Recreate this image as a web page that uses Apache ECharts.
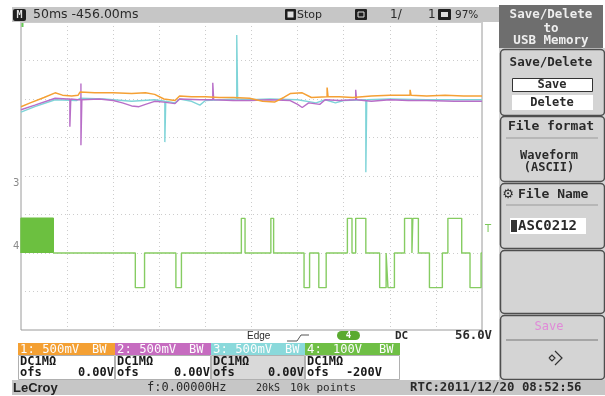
<!DOCTYPE html>
<html><head><meta charset="utf-8">
<script src="https://cdn.jsdelivr.net/npm/echarts/dist/echarts.min.js"></script>
<style>html,body{margin:0;padding:0;background:#fff}#c{width:605px;height:396px}</style>
</head><body><div id="c"></div><script>
// ---- data (time in ms across the 10 divisions of 50 ms, values in V) ----
const ch1 = [[0,0.90],[10,0.95],[25,1.02],[37,1.08],[45,1.05],[55,1.04],[62,1.05],[64,1.09],[80,1.08],[100,1.08],[120,1.07],[135,1.08],[145,1.06],[155,1.00],[167,0.98],[172,1.04],[185,1.03],[200,1.03],[215,1.02],[230,1.02],[248,1.01],[262,0.97],[275,0.96],[285,1.02],[292,1.07],[305,1.08],[315,1.02],[332,1.03],[332,1.15],[333,1.03],[345,1.03],[360,1.02],[380,1.04],[400,1.05],[422,1.05],[422,1.12],[423,1.05],[440,1.04],[460,1.05],[480,1.04],[500,1.04]];
const ch2 = [[0,0.86],[15,0.92],[37,1.01],[50,1.00],[53,1.00],[53,0.64],[54,1.00],[62,0.99],[65,0.99],[65,1.20],[65,0.40],[66,0.99],[85,1.00],[100,0.98],[110,0.95],[120,0.91],[128,0.90],[135,0.93],[145,0.97],[155,0.96],[167,0.94],[172,1.00],[194,0.99],[208,0.99],[208,1.21],[209,0.99],[230,0.98],[248,0.98],[270,0.99],[292,0.98],[300,0.93],[305,0.89],[312,0.95],[324,0.93],[330,0.99],[345,0.98],[363,0.99],[363,1.12],[364,0.99],[380,0.97],[400,0.99],[420,0.98],[440,0.98],[470,0.97],[500,0.97]];
const ch3 = [[0,0.83],[15,0.90],[37,0.99],[60,0.98],[64,1.01],[90,1.00],[120,0.97],[145,0.99],[156,0.97],[156,0.44],[157,0.97],[167,0.95],[172,1.00],[185,0.97],[194,0.92],[200,0.98],[234,1.00],[234,1.83],[235,1.00],[248,0.99],[270,1.00],[300,0.99],[320,0.95],[330,0.99],[341,0.95],[350,0.98],[374,0.99],[374,0.05],[375,0.99],[400,1.00],[440,0.99],[500,0.99]];
// channel 4 (100 V/div, offset -200 V): level that starts at each time
const ch4Burst = [[0,0],[0,90],[35,90],[35,0]];
const ch4 = [[35,0],[124,-90],[134,0],[168,-90],[174,0],[239,90],[243,0],[271,90],[274,0],[307,-90],[313,0],[323,-90],[331,0],[354,90],[359,0],[363,90],[374,0],[389,-90],[396,0],[398,-90],[405,0],[416,90],[424,0],[425,90],[431,0],[443,-90],[457,0],[463,90],[478,0],[487,-90],[499,0],[500,0]];
const chLabels = ['1: 500mV','2: 500mV','3: 500mV','4:'];
const chOfs = ['0.00V','0.00V','0.00V','-200V'];

// ---- drawing ----
const G = [];
const MONO='"DejaVu Sans Mono", monospace', SANS='"Liberation Sans", Arial, sans-serif', DSANS='"DejaVu Sans", sans-serif';
function T(x,y,s,o){o=o||{};G.push({type:'text',x:x,y:y,z:o.z||20,style:{text:s,fill:o.c||'#2a2a2a',font:(o.w||'normal')+' '+(o.s||12)+'px '+(o.f||MONO),align:o.a||'left',verticalAlign:'middle'}});}
function R(x,y,w,h,o){o=o||{};G.push({type:'rect',z:o.z||10,shape:{x:x,y:y,width:w,height:h,r:o.r||0},style:{fill:o.fill||'none',stroke:o.stroke||null,lineWidth:o.lw||1}});}
function L(x1,y1,x2,y2,o){o=o||{};G.push({type:'line',z:o.z||15,shape:{x1:x1,y1:y1,x2:x2,y2:y2},style:{stroke:o.c||'#888',lineWidth:o.lw||1}});}
function P(pts,o){o=o||{};G.push({type:'polyline',z:o.z||15,shape:{points:pts},style:{stroke:o.c||'#333',lineWidth:o.lw||1,fill:'none'}});}

// top status bar
R(12,7,488,15,{fill:'#c6c6c6'});
R(13,9,13,12,{fill:'#1f1f1f',r:2}); T(19.5,15,'M',{c:'#e0e0e0',s:10,w:'bold',a:'center'});
T(33,15,'50ms -456.00ms',{s:12.5,f:DSANS});
R(285,9,11,11,{fill:'#1f1f1f',r:1}); R(287.5,11.5,6,6,{fill:'#e0e0e0'}); T(297,15,'Stop',{s:11,f:DSANS});
R(355,9,12,11,{fill:'#1f1f1f',r:1}); R(358,12,6,5,{stroke:'#ddd'});
T(390,15,'1/',{s:12,f:DSANS}); T(428,15,'1',{s:12,f:DSANS});
R(438,9,13,11,{fill:'#1f1f1f',r:1}); R(441,12,7,5,{fill:'#ddd'});
T(455,15,'97%',{s:10.5,f:DSANS});

// right menu
R(499,5,104,43,{fill:'#6e6e6e'});
T(551,15,'Save/Delete',{c:'#eeeeee',s:12.5,a:'center',w:'bold'});
T(551,28.5,'to',{c:'#eeeeee',s:12.5,a:'center',w:'bold'});
T(551,41,'USB Memory',{c:'#eeeeee',s:12.5,a:'center',w:'bold'});
R(499,48,106,332,{fill:'#d4d4d4'});
[[49,66],[116,65],[183,65],[250,63],[315,64]].forEach(p=>R(500.5,p[0]+0.5,104,p[1],{fill:'#d4d4d4',stroke:'#4e4e4e',lw:1.5,r:4}));
T(551,63,'Save/Delete',{s:12.5,a:'center',w:'bold'});
R(512.5,78.5,80,13,{fill:'#fff',stroke:'#333'}); T(552,85,'Save',{s:12,a:'center',w:'bold'});
R(512,95,81,15,{fill:'#fff'}); T(552,102.5,'Delete',{s:12,a:'center',w:'bold'});
T(551,127,'File format',{s:13,a:'center',w:'bold'});
L(506,138,598,138,{c:'#9a9a9a'});
T(549,156,'Waveform',{s:12,a:'center',w:'bold'});
T(549,168,'(ASCII)',{s:12,a:'center',w:'bold'});
T(508,195,'\u2699',{s:13,f:DSANS,a:'center'}); T(518,195,'File Name',{s:13,w:'bold'});
L(506,205,598,205,{c:'#9a9a9a'});
R(510,218,76,16,{fill:'#fff'}); R(511,220,6,12,{fill:'#333'}); T(518,226,'ASC0212',{s:14,w:'bold'});
T(549,327,'Save',{s:12,a:'center',c:'#e08ad8'});
L(506,340,598,340,{c:'#777'});
P([[549,358],[552,355],[555,358],[552,361],[549,358]],{c:'#333',lw:1.2});
P([[555,351],[562,358],[555,365]],{c:'#333',lw:1.2});

// trigger row
T(247,336,'Edge',{f:SANS,s:10});
P([[287,341],[297,341],[301,335],[309,335]],{c:'#555'});
R(337,331,23,9,{fill:'#5aaa30',r:4.5}); T(348.5,335.5,'4',{c:'#fff',s:9,a:'center',w:'bold'});
T(395,336,'DC',{s:11,w:'bold'}); T(455,336,'56.0V',{s:12.3,w:'bold'});

// channel boxes
const boxX=[18,115,211,305], boxW=[97,96,94,95], boxC=['#f4a033','#c66cc0','#8ad9db','#6fbf45'], bodyC=['#fff','#fff','#d9d9d9','#fff'];
for(let i=0;i<4;i++){
  R(boxX[i]+0.5,355.5,boxW[i]-1,24,{fill:bodyC[i],stroke:'#b0b0b0'});
  R(boxX[i],343,boxW[i],12,{fill:boxC[i]});
  T(boxX[i]+2,349.5,chLabels[i],{c:'#fdfdfd',s:12.3});
  T(boxX[i]+74,349.5,'BW',{c:'#fdfdfd',s:12});
  T(boxX[i]+2,362,'DC1M\u03A9',{s:12,c:'#1a1a1a',w:'bold'});
  T(boxX[i]+2,373,'ofs',{s:12,c:'#1a1a1a',w:'bold'});
  T(i<3?boxX[i]+boxW[i]-1:382,373,chOfs[i],{s:12,a:'right',c:'#1a1a1a',w:'bold'});
}
T(333,349.5,'100V',{c:'#fdfdfd',s:12});

// bottom bar
R(12,380,593,15,{fill:'#c6c6c6'});
T(13,388,'LeCroy',{f:SANS,s:13,w:'bold',c:'#222'});
T(147,388,'f:0.00000Hz',{s:12});
T(256,388,'20kS',{s:10});
T(290,388,'10k points',{s:11});
T(410,388,'RTC:2011/12/20 08:52:56',{s:12.4,w:'bold'});

// side markers
T(13,183,'3',{c:'#8a8a8a',s:10,f:DSANS});
T(13,246,'4',{c:'#8a8a8a',s:10,f:DSANS});
R(21.5,23,2,4,{fill:'#66cc55'});
T(485,229,'T',{c:'#7cc85a',s:10,f:DSANS});

const dotted = {show:true,lineStyle:{color:'#cccccc',type:[1,3],width:1}};
const chart = echarts.init(document.getElementById('c'));
chart.setOption({
  animation:false,
  graphic:G,
  grid:{left:21,top:22,width:461,height:308,show:true,borderColor:'#9a9a9a',borderWidth:1,backgroundColor:'#fff'},
  xAxis:{type:'value',min:0,max:500,interval:50,axisLine:{show:false},axisTick:{show:false},axisLabel:{show:false},splitLine:dotted},
  yAxis:[
    {type:'value',min:-2,max:2,interval:0.5,axisLine:{show:false},axisTick:{show:false},axisLabel:{show:false},splitLine:dotted},
    {type:'value',min:-200,max:600,interval:100,show:false,splitLine:{show:false}}
  ],
  series:[
    {type:'line',name:'3',data:ch3,symbol:'none',lineStyle:{color:'#7fd4d8',width:1.4},silent:true,z:2},
    {type:'line',name:'2',data:ch2,symbol:'none',lineStyle:{color:'#b86ec8',width:1.4},silent:true,z:3},
    {type:'line',name:'1',data:ch1,symbol:'none',lineStyle:{color:'#f5a034',width:1.5},silent:true,z:4},
    {type:'line',name:'4b',data:ch4Burst,yAxisIndex:1,symbol:'none',lineStyle:{color:'#6cc040',width:1.5},areaStyle:{color:'#6cc040',opacity:1},silent:true,z:5},
    {type:'line',name:'4',data:ch4,yAxisIndex:1,step:'end',symbol:'none',lineStyle:{color:'#86cc62',width:1.4},silent:true,z:5}
  ]
});
</script></body></html>
